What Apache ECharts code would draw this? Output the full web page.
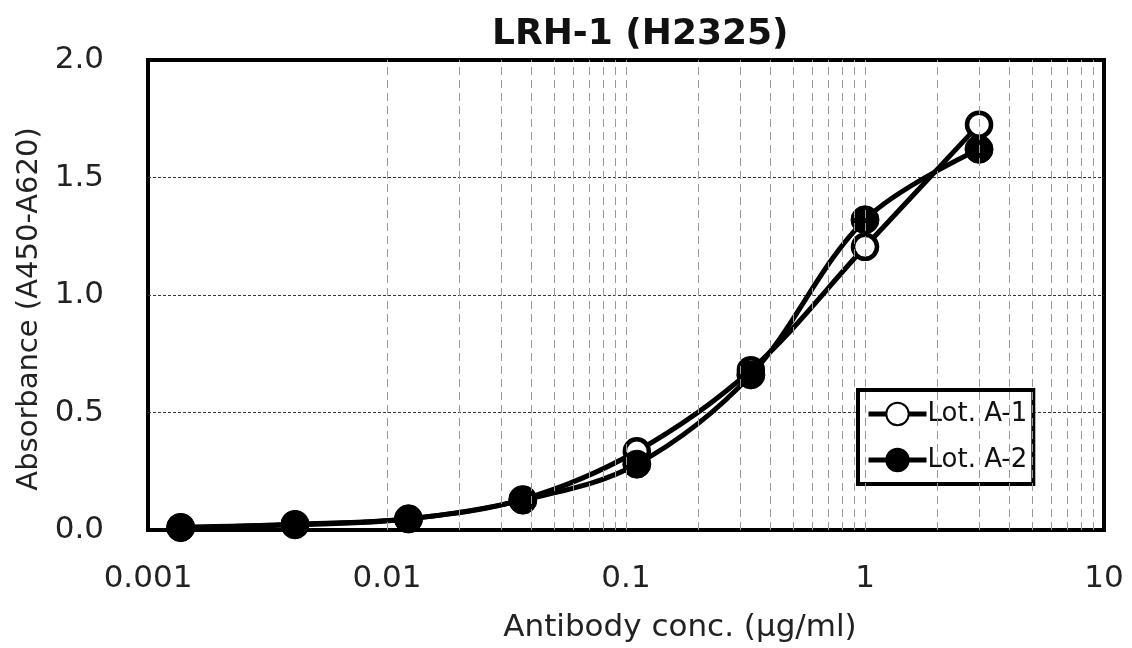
<!DOCTYPE html>
<html>
<head>
<meta charset="utf-8">
<script src="https://cdn.jsdelivr.net/npm/echarts@6/dist/echarts.min.js"></script>
<style>
  html, body { margin: 0; padding: 0; background: #fff; }
  #chart { width: 1132px; height: 648px; }
</style>
</head>
<body>
<div id="chart"></div>
<script>
// antibody concentrations (3-fold dilution), ug/ml
const conc = [0.00137, 0.00412, 0.0123, 0.037, 0.111, 0.333, 1, 3]
const lotA1 = [0.012, 0.025, 0.048, 0.13, 0.335, 0.68, 1.205, 1.725]
const lotA2 = [0.01, 0.022, 0.047, 0.127, 0.28, 0.66, 1.32, 1.62]
const seriesNames = ['Lot. A-1', 'Lot. A-2']
const yTicks = [0, 0.5, 1.0, 1.5, 2.0]
const decades = [0.001, 0.01, 0.1, 1]
const minorSteps = [2, 3, 4, 5, 6, 7, 8, 9]

const FONT = 'DejaVu Sans'

// vertical log grid: decade lines plus 2..9 inside each decade
const logGrid = []
decades.forEach((d, i) => {
  if (i > 0) logGrid.push(d)
  minorSteps.forEach(m => logGrid.push(+(d * m).toPrecision(3)))
})

const pairs = (ys) => conc.map((x, i) => [x, ys[i]])

const chart = echarts.init(document.getElementById('chart'))
chart.setOption({
  animation: false,
  textStyle: { fontFamily: FONT, color: '#222' },
  title: {
    text: 'LRH-1 (H2325)',
    left: 487,
    top: 12,
    textStyle: { fontFamily: FONT, fontSize: 36, fontWeight: 'bold', color: '#111' }
  },
  grid: {
    left: 148,
    right: 28,
    top: 60,
    bottom: 115,
    show: true,
    borderColor: '#000',
    borderWidth: 4,
    backgroundColor: '#fff'
  },
  legend: {
    orient: 'vertical',
    left: 858,
    top: 390,
    data: seriesNames,
    padding: [11, 6, 11, 8],
    itemGap: 20,
    itemWidth: 58,
    itemHeight: 28,
    borderColor: '#000',
    borderWidth: 4,
    backgroundColor: '#fff',
    lineStyle: { width: 5 },
    textStyle: { fontFamily: FONT, fontSize: 26, color: '#111', padding: [0, 0, 0, -4] }
  },
  xAxis: {
    type: 'log',
    logBase: 10,
    min: 0.001,
    max: 10,
    name: 'Antibody conc. (µg/ml)',
    nameLocation: 'middle',
    nameGap: 82,
    nameTextStyle: { fontFamily: FONT, fontSize: 31, color: '#222', padding: [0, 0, 0, 108] },
    axisLine: { show: false },
    axisTick: { show: false },
    axisLabel: {
      margin: 33,
      fontSize: 31,
      color: '#222',
      formatter: v => String(+(+v).toPrecision(3))
    },
    splitLine: { show: false }
  },
  yAxis: {
    type: 'value',
    min: yTicks[0],
    max: yTicks[yTicks.length - 1],
    interval: 0.5,
    name: 'Absorbance (A450-A620)',
    nameLocation: 'middle',
    nameGap: 104,
    nameTextStyle: { fontFamily: FONT, fontSize: 29, color: '#222', padding: [0, 28, 0, 0] },
    axisLine: { show: false },
    axisTick: { show: false },
    axisLabel: {
      margin: 44,
      fontSize: 31,
      color: '#222',
      formatter: v => v.toFixed(1)
    },
    splitLine: {
      show: true,
      showMinLine: false,
      showMaxLine: false,
      lineStyle: { color: '#333', width: 1, type: [3, 2] }
    }
  },
  series: [
    {
      name: 'log-grid',
      type: 'line',
      data: [],
      silent: true,
      z: 0,
      markLine: {
        silent: true,
        symbol: 'none',
        label: { show: false },
        lineStyle: { color: '#999', width: 1, type: [8, 5] },
        data: logGrid.map(v => ({ xAxis: v }))
      }
    },
    {
      name: seriesNames[0],
      type: 'line',
      smooth: 0.35,
      data: pairs(lotA1),
      symbol: 'circle',
      symbolSize: 24,
      z: 3,
      lineStyle: { color: '#000', width: 5 },
      itemStyle: { color: '#fff', borderColor: '#000', borderWidth: 4.5 }
    },
    {
      name: seriesNames[1],
      type: 'line',
      smooth: 0.35,
      data: pairs(lotA2),
      symbol: 'circle',
      symbolSize: 28,
      z: 4,
      lineStyle: { color: '#000', width: 5 },
      itemStyle: { color: '#000', borderColor: '#000', borderWidth: 1 }
    }
  ]
})
</script>
</body>
</html>
